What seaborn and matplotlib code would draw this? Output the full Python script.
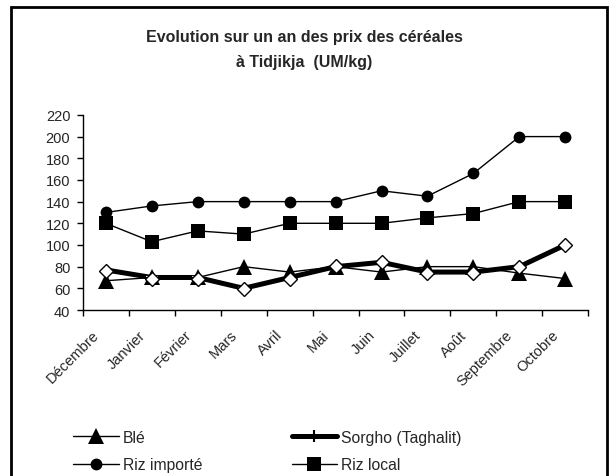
import numpy as np
import pandas as pd
import matplotlib
matplotlib.use("Agg")
import matplotlib.pyplot as plt
from matplotlib.patches import Rectangle
from matplotlib.lines import Line2D
import seaborn as sns

# Donnees
mois = ['Décembre', 'Janvier', 'Février', 'Mars', 'Avril', 'Mai',
        'Juin', 'Juillet', 'Août', 'Septembre', 'Octobre']
ble = [67, 70, 70, 80, 75, 80, 75, 80, 80, 74, 69]
sorgho = [77, 70, 70, 60, 70, 80, 84, 75, 75, 80, 100]
riz_importe = [130, 136, 140, 140, 140, 140, 150, 145, 166, 200, 200]
riz_local = [120, 103, 113, 110, 120, 120, 120, 125, 129, 140, 140]
losange = [76, 69, 69, 59, 69, 81, 84, 74, 74, 80, 100]

sns.set_style("white")
plt.rcParams['font.family'] = ['Liberation Sans', 'DejaVu Sans']

fig = plt.figure(figsize=(6.09, 4.77), dpi=100)
ax = fig.add_axes([0.136, 0.348, 0.83, 0.409])

x = np.arange(len(mois))

# styles des series
st_ble = dict(color='black', lw=1, marker='^', markersize=11, markeredgewidth=0)
st_sorgho = dict(color='black', lw=3.6, marker='+', markersize=9, markeredgewidth=1.5)
st_importe = dict(color='black', lw=1, marker='o', markersize=8.5, markeredgewidth=0)
st_local = dict(color='black', lw=1, marker='s', markersize=9.5, markeredgewidth=0)

sns.lineplot(x=x, y=sorgho, ax=ax, **st_sorgho)
sns.lineplot(x=x, y=ble, ax=ax, **st_ble)
sns.lineplot(x=x, y=riz_importe, ax=ax, **st_importe)
sns.lineplot(x=x, y=riz_local, ax=ax, **st_local)
sns.lineplot(x=x, y=losange, ax=ax, color='black', lw=1,
             marker='D', markersize=7.5, markerfacecolor='white',
             markeredgecolor='black', markeredgewidth=1)

ax.set_xlim(-0.5, len(mois) - 0.5)
ax.set_ylim(40, 220)
ax.set_yticks(range(40, 221, 20))
ax.set_xticks(np.arange(-0.5, len(mois), 1.0))
ax.set_xticklabels([])
# etiquettes des mois un peu decalees a gauche, comme dans Excel
ax.set_xticks(x - 0.3, minor=True)
ax.set_xticklabels(mois, minor=True, rotation=45, ha='right',
                   rotation_mode='anchor', fontsize=10.5)
ax.tick_params(axis='x', which='major', direction='out', length=4,
               width=1, bottom=True, color='black')
ax.tick_params(axis='x', which='minor', length=0, pad=12.5)
ax.tick_params(axis='y', direction='out', length=4, width=1, left=True,
               color='black', labelsize=10.5, pad=5)
ax.set_xlabel('')
ax.set_ylabel('')
for s in ['top', 'right']:
    ax.spines[s].set_visible(False)
for s in ['left', 'bottom']:
    ax.spines[s].set_color('black')
    ax.spines[s].set_linewidth(1)

fig.text(0.5, 0.922, 'Evolution sur un an des prix des céréales',
         ha='center', va='center', fontsize=11.5, fontweight='bold')
fig.text(0.5, 0.870, 'à Tidjikja  (UM/kg)',
         ha='center', va='center', fontsize=11.5, fontweight='bold')

leg_kw = dict(loc='upper left', frameon=False, fontsize=11.3, handlelength=2.9,
              handletextpad=0.25, labelspacing=0.8, borderpad=0,
              borderaxespad=0)
fig.legend([Line2D([], [], **st_ble), Line2D([], [], **st_importe)],
           ['Blé', 'Riz importé'], bbox_to_anchor=(0.120, 0.097), **leg_kw)
fig.legend([Line2D([], [], **st_sorgho), Line2D([], [], **st_local)],
           ['Sorgho (Taghalit)', 'Riz local'], bbox_to_anchor=(0.479, 0.097), **leg_kw)

fig.patches.append(Rectangle((11 / 609, -0.01), 596 / 609, 1 - 8 / 477 + 0.01,
                             transform=fig.transFigure, fill=False,
                             edgecolor='black', linewidth=2))

fig.savefig('out.png', dpi=100)
